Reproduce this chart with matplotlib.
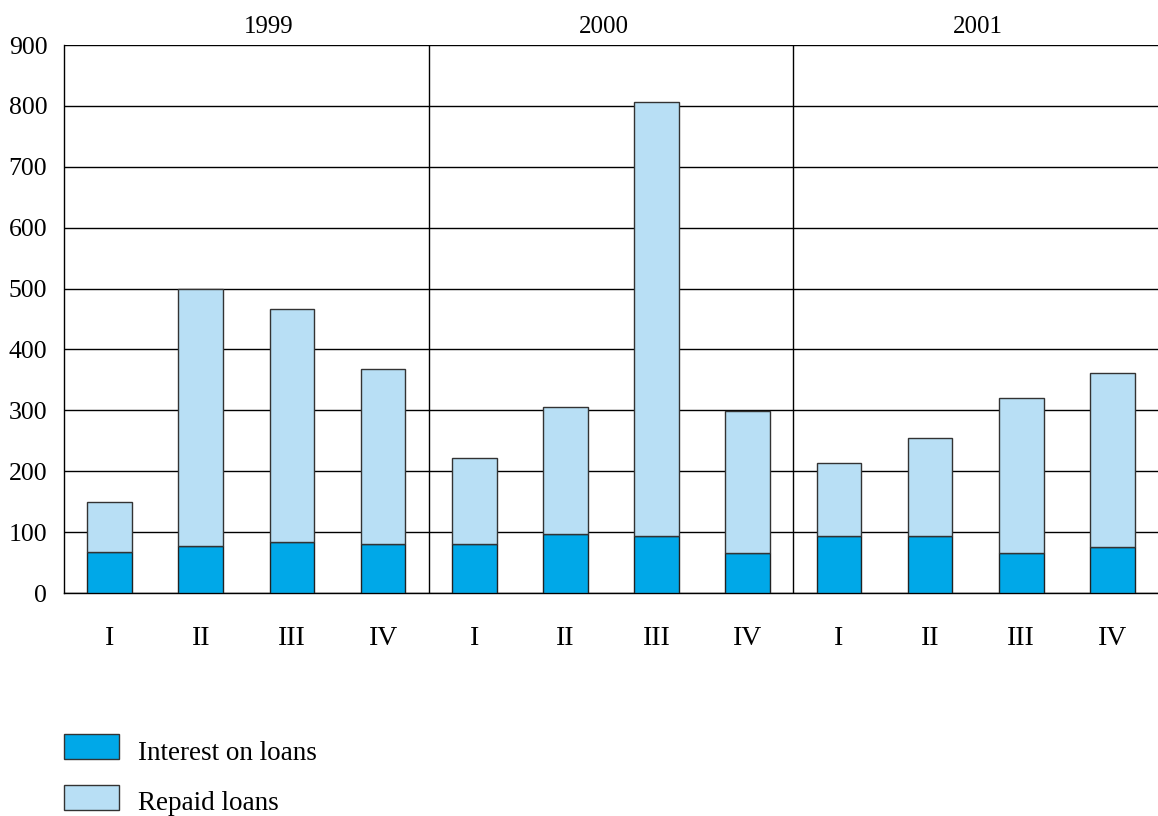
import numpy as np
import matplotlib.pyplot as plt
from matplotlib.patches import Rectangle

# Quarterly values
years = ["1999", "2000", "2001"]
quarters = ["I", "II", "III", "IV"]
interest = [67, 77, 84, 80, 80, 97, 94, 66, 94, 93, 65, 75]
total = [150, 500, 466, 368, 222, 305, 806, 299, 213, 254, 320, 361]
repaid = [t - i for t, i in zip(total, interest)]

dark_blue = "#00a8e8"
light_blue = "#b8dff5"

plt.rcParams["font.family"] = ["Liberation Serif", "DejaVu Serif"]

fig = plt.figure(figsize=(11.58, 8.16), dpi=100)
ax = fig.add_axes([64 / 1158, 1 - 593 / 816, 1 - 64 / 1158, (593 - 45) / 816])

x = np.arange(len(interest)) + 0.5
ax.bar(x, interest, width=0.49, color=dark_blue, edgecolor="#222222", linewidth=1, zorder=3)
ax.bar(x, repaid, width=0.49, bottom=interest, color=light_blue, edgecolor="#333333",
       linewidth=1, zorder=3)

ax.set_xlim(0, 12)
ax.set_ylim(0, 900)
ax.set_yticks(np.arange(0, 901, 100))
ax.yaxis.grid(True, color="black", linewidth=1, zorder=0)
ax.set_axisbelow(True)

# year separators
for sep in [4, 8]:
    ax.axvline(sep, color="black", linewidth=1, zorder=1)

ax.set_xticks(x)
ax.set_xticklabels(quarters * len(years))
ax.tick_params(axis="both", length=0)
ax.tick_params(axis="x", pad=24, labelsize=20)
ax.tick_params(axis="y", pad=12, labelsize=18.5)

for s in ["top", "right"]:
    ax.spines[s].set_visible(False)
for s in ["left", "bottom"]:
    ax.spines[s].set_color("black")
    ax.spines[s].set_linewidth(1)

# year labels above the groups
for xpos, yr in zip([2.25, 5.92, 10.02], years):
    ax.text(xpos, 912, yr, ha="center", va="bottom", fontsize=18)

# legend drawn by hand
legend_items = [("Interest on loans", dark_blue), ("Repaid loans", light_blue)]
for k, (label, col) in enumerate(legend_items):
    top = 734 + k * 51
    fig.patches.append(Rectangle((64 / 1158, 1 - (top + 25) / 816), 55 / 1158, 25 / 816,
                                 transform=fig.transFigure, facecolor=col,
                                 edgecolor="#333333", linewidth=1))
    fig.text(138 / 1158, 1 - (top + 19) / 816, label, ha="left", va="center", fontsize=19.5)

fig.savefig("out.png", dpi=100)
